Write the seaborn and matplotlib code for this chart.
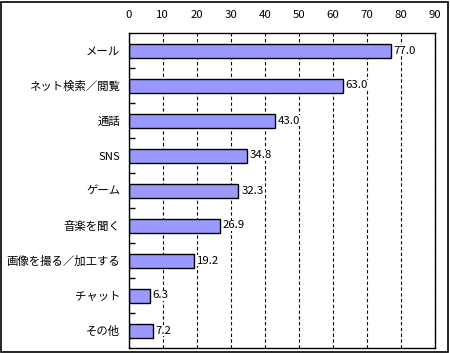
import matplotlib
matplotlib.use("Agg")
import matplotlib.pyplot as plt
import matplotlib.patches as patches
import seaborn as sns
import pandas as pd

# data
categories = ["メール", "ネット検索／閲覧", "通話", "SNS", "ゲーム",
              "音楽を聞く", "画像を撮る／加工する", "チャット", "その他"]
values = [77.0, 63.0, 43.0, 34.8, 32.3, 26.9, 19.2, 6.3, 7.2]
x_ticks = [0, 10, 20, 30, 40, 50, 60, 70, 80, 90]

sns.set_theme(style="white")
plt.rcParams['font.family'] = ['Noto Sans CJK JP', 'DejaVu Sans']

df = pd.DataFrame({"cat": categories, "val": values})

fig = plt.figure(figsize=(4.5, 3.53), dpi=100)
ax = fig.add_axes([128.5/450, 1-348/353, (435-128.5)/450, (348-33)/353])

sns.barplot(data=df, x="val", y="cat", orient="h", color="#9999FF",
            saturation=1, width=0.4, edgecolor="black", linewidth=1, ax=ax)

ax.set_xlim(0, 90)
ax.set_ylim(len(categories)-0.5, -0.5)
ax.set_xticks(x_ticks)
ax.xaxis.tick_top()
ax.tick_params(axis='x', length=0, pad=9, labelsize=8.2, colors='black')
ax.tick_params(axis='y', which='major', length=0, pad=6, labelsize=8.2, colors='black')
ax.set_yticks([i + 0.5 for i in range(len(categories)-1)], minor=True)
ax.tick_params(axis='y', which='minor', direction='in', length=4, width=1, color='black', left=True)
ax.set_xlabel("")
ax.set_ylabel("")

ax.set_axisbelow(True)
ax.xaxis.grid(True, color='black', linestyle=(0, (3, 2.2)), linewidth=0.8)
ax.yaxis.grid(False)
for s in ax.spines.values():
    s.set_color('black')
    s.set_linewidth(1)

for i, v in enumerate(values):
    ax.text(v + 0.8, i, f"{v:.1f}", va='center', ha='left', fontsize=8.2, color='black',
            bbox=dict(facecolor='white', edgecolor='none', pad=0.5))

fig.patches.append(patches.Rectangle((0.5/450, 1.5/353), 447.5/450, 349.5/353,
                                     transform=fig.transFigure, fill=False,
                                     edgecolor='black', linewidth=1.2))

fig.savefig("out.png", dpi=100, facecolor='white')
